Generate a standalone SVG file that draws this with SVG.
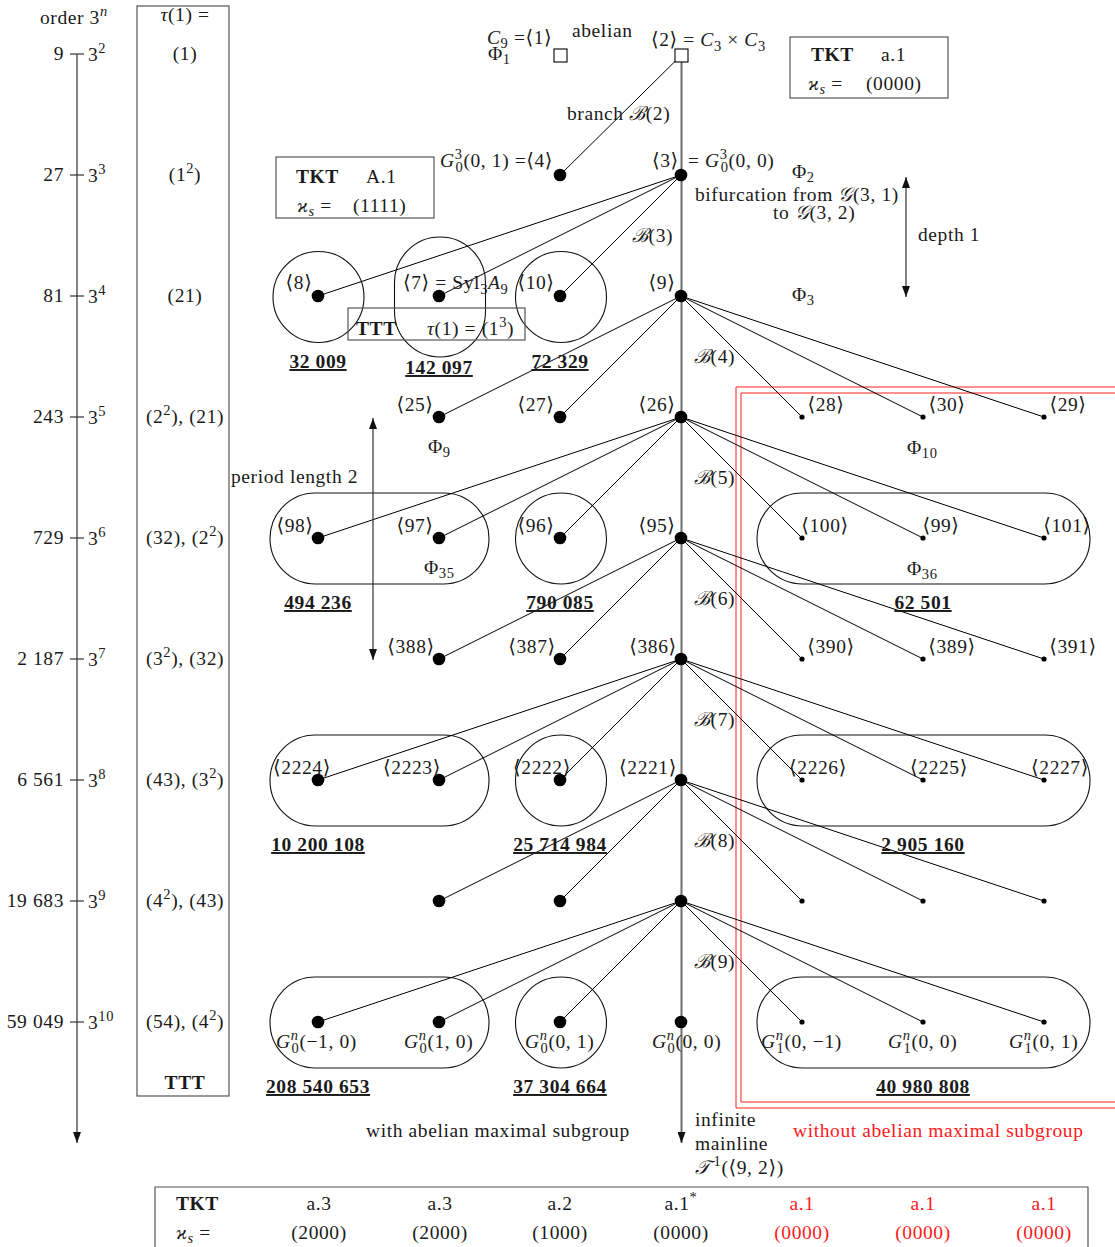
<svg xmlns="http://www.w3.org/2000/svg" width="1115" height="1247" viewBox="0 0 1115 1247">
<style>
.t{font-family:"Liberation Serif","DejaVu Serif",serif;font-size:19.5px;fill:#1a1a1a;letter-spacing:0.6px}
.m{text-anchor:middle}
.e{text-anchor:end}
.i{font-style:italic}
.b{font-weight:bold}
.u{text-decoration:underline}
.s{font-size:14.5px}
.r{fill:#ff1a1a}
.ed{stroke:#000;stroke-width:1;fill:none}
.ml{stroke:#6e6e6e;stroke-width:2;fill:none}
.ax{stroke:#333;stroke-width:1.2;fill:none}
.big{fill:#000}
.sm{fill:#000}
.sq{fill:#fff;stroke:#000;stroke-width:1.1}
.box{fill:none;stroke:#555;stroke-width:1.2}
.cl{fill:none;stroke:#111;stroke-width:1.1}
.rb{fill:none;stroke:#ff2020;stroke-width:1}
</style>
<defs>
<marker id="ah" viewBox="0 0 11 8" refX="11" refY="4" markerWidth="11" markerHeight="8" markerUnits="userSpaceOnUse" orient="auto-start-reverse"><path d="M0,0 L11,4 L0,8 z" fill="#111"/></marker>
</defs>
<rect width="1115" height="1247" fill="#fff"/>

<!-- left order axis -->
<g id="order-axis">
<line class="ax" x1="77" y1="54" x2="77" y2="1143" marker-end="url(#ah)"/>
<g class="ax">
<line x1="70" y1="54" x2="84" y2="54"/><line x1="70" y1="175" x2="84" y2="175"/><line x1="70" y1="296" x2="84" y2="296"/>
<line x1="70" y1="417" x2="84" y2="417"/><line x1="70" y1="538" x2="84" y2="538"/><line x1="70" y1="659" x2="84" y2="659"/>
<line x1="70" y1="780" x2="84" y2="780"/><line x1="70" y1="901" x2="84" y2="901"/><line x1="70" y1="1022" x2="84" y2="1022"/>
</g>
<text class="t" x="40" y="24">order 3<tspan class="s i" dy="-8">n</tspan></text>
<text class="t e" x="64" y="60">9</text><text class="t" x="88" y="61">3<tspan class="s" dy="-8">2</tspan></text>
<text class="t e" x="64" y="181">27</text><text class="t" x="88" y="182">3<tspan class="s" dy="-8">3</tspan></text>
<text class="t e" x="64" y="302">81</text><text class="t" x="88" y="303">3<tspan class="s" dy="-8">4</tspan></text>
<text class="t e" x="64" y="423">243</text><text class="t" x="88" y="424">3<tspan class="s" dy="-8">5</tspan></text>
<text class="t e" x="64" y="544">729</text><text class="t" x="88" y="545">3<tspan class="s" dy="-8">6</tspan></text>
<text class="t e" x="64" y="665">2 187</text><text class="t" x="88" y="666">3<tspan class="s" dy="-8">7</tspan></text>
<text class="t e" x="64" y="786">6 561</text><text class="t" x="88" y="787">3<tspan class="s" dy="-8">8</tspan></text>
<text class="t e" x="64" y="907">19 683</text><text class="t" x="88" y="908">3<tspan class="s" dy="-8">9</tspan></text>
<text class="t e" x="64" y="1028">59 049</text><text class="t" x="88" y="1029">3<tspan class="s" dy="-8">10</tspan></text>
</g>

<!-- tau column -->
<g id="ttt-column">
<rect class="box" x="137" y="6" width="92" height="1090"/>
<text class="t m" x="185" y="21"><tspan class="i">τ</tspan>(1) =</text>
<text class="t m" x="185" y="60">(1)</text>
<text class="t m" x="185" y="181">(1<tspan class="s" dy="-8">2</tspan><tspan dy="8">)</tspan></text>
<text class="t m" x="185" y="302">(21)</text>
<text class="t m" x="185" y="423">(2<tspan class="s" dy="-8">2</tspan><tspan dy="8">), (21)</tspan></text>
<text class="t m" x="185" y="544">(32), (2<tspan class="s" dy="-8">2</tspan><tspan dy="8">)</tspan></text>
<text class="t m" x="185" y="665">(3<tspan class="s" dy="-8">2</tspan><tspan dy="8">), (32)</tspan></text>
<text class="t m" x="185" y="786">(43), (3<tspan class="s" dy="-8">2</tspan><tspan dy="8">)</tspan></text>
<text class="t m" x="185" y="907">(4<tspan class="s" dy="-8">2</tspan><tspan dy="8">), (43)</tspan></text>
<text class="t m" x="185" y="1028">(54), (4<tspan class="s" dy="-8">2</tspan><tspan dy="8">)</tspan></text>
<text class="t m b" x="185" y="1089">TTT</text>
</g>

<!-- region without abelian maximal subgroup -->
<g id="region-nonabelian">
<path class="rb" d="M1115,387 H736 V1108 H1115"/>
<path class="rb" d="M1115,393 H741 V1102 H1115"/>
<text class="t r" x="793" y="1137">without abelian maximal subgroup</text>
</g>

<!-- clusters -->
<g id="clusters">
<circle class="cl" cx="318.5" cy="297" r="45.5"/>
<rect class="cl" x="394.5" y="237" width="91" height="120" rx="45.5"/>
<circle class="cl" cx="561" cy="297" r="45.5"/>
<rect class="cl" x="270" y="493" width="219" height="91" rx="45.5"/>
<circle class="cl" cx="561" cy="538.5" r="45.5"/>
<rect class="cl" x="757" y="493" width="333" height="91" rx="45.5"/>
<rect class="cl" x="270" y="735" width="219" height="91" rx="45.5"/>
<circle class="cl" cx="561" cy="780.5" r="45.5"/>
<rect class="cl" x="757" y="735" width="333" height="91" rx="45.5"/>
<rect class="cl" x="270" y="977" width="219" height="91" rx="45.5"/>
<circle class="cl" cx="561" cy="1022.5" r="45.5"/>
<rect class="cl" x="757" y="977" width="333" height="91" rx="45.5"/>
</g>

<!-- connectors -->
<g id="connectors">
<line class="ml" x1="681.5" y1="55" x2="681.5" y2="1143" marker-end="url(#ah)"/>
<g class="ed">
<line x1="681.5" y1="55" x2="560" y2="175"/>
<line x1="681" y1="175" x2="318" y2="296"/><line x1="681" y1="175" x2="439" y2="296"/><line x1="681" y1="175" x2="560" y2="296"/>
<line x1="681" y1="296" x2="439" y2="417"/><line x1="681" y1="296" x2="560" y2="417"/><line x1="681" y1="296" x2="802" y2="417"/><line x1="681" y1="296" x2="923" y2="417"/><line x1="681" y1="296" x2="1044" y2="417"/>
<line x1="681" y1="417" x2="318" y2="538"/><line x1="681" y1="417" x2="439" y2="538"/><line x1="681" y1="417" x2="560" y2="538"/><line x1="681" y1="417" x2="802" y2="538"/><line x1="681" y1="417" x2="923" y2="538"/><line x1="681" y1="417" x2="1044" y2="538"/>
<line x1="681" y1="538" x2="439" y2="659"/><line x1="681" y1="538" x2="560" y2="659"/><line x1="681" y1="538" x2="802" y2="659"/><line x1="681" y1="538" x2="923" y2="659"/><line x1="681" y1="538" x2="1044" y2="659"/>
<line x1="681" y1="659" x2="318" y2="780"/><line x1="681" y1="659" x2="439" y2="780"/><line x1="681" y1="659" x2="560" y2="780"/><line x1="681" y1="659" x2="802" y2="780"/><line x1="681" y1="659" x2="923" y2="780"/><line x1="681" y1="659" x2="1044" y2="780"/>
<line x1="681" y1="780" x2="439" y2="901"/><line x1="681" y1="780" x2="560" y2="901"/><line x1="681" y1="780" x2="802" y2="901"/><line x1="681" y1="780" x2="923" y2="901"/><line x1="681" y1="780" x2="1044" y2="901"/>
<line x1="681" y1="901" x2="318" y2="1022"/><line x1="681" y1="901" x2="439" y2="1022"/><line x1="681" y1="901" x2="560" y2="1022"/><line x1="681" y1="901" x2="802" y2="1022"/><line x1="681" y1="901" x2="923" y2="1022"/><line x1="681" y1="901" x2="1044" y2="1022"/>
</g>
<line class="ax" x1="906" y1="177" x2="906" y2="297" marker-start="url(#ah)" marker-end="url(#ah)"/>
<line class="ax" x1="373" y1="418" x2="373" y2="660" marker-start="url(#ah)" marker-end="url(#ah)"/>
<text class="t" x="567" y="120">branch <tspan class="i">ℬ</tspan>(2)</text>
<text class="t" x="632" y="242"><tspan class="i">ℬ</tspan>(3)</text>
<text class="t" x="694" y="363"><tspan class="i">ℬ</tspan>(4)</text>
<text class="t" x="694" y="484"><tspan class="i">ℬ</tspan>(5)</text>
<text class="t" x="694" y="605"><tspan class="i">ℬ</tspan>(6)</text>
<text class="t" x="694" y="726"><tspan class="i">ℬ</tspan>(7)</text>
<text class="t" x="694" y="847"><tspan class="i">ℬ</tspan>(8)</text>
<text class="t" x="694" y="968"><tspan class="i">ℬ</tspan>(9)</text>
<text class="t" x="918" y="241">depth 1</text>
<text class="t" x="231" y="483">period length 2</text>
</g>

<!-- nodes -->
<g id="n1"><rect class="sq" x="554" y="49" width="13" height="13"/>
<text class="t" x="487" y="44"><tspan class="i">C</tspan><tspan class="s" dy="4">9</tspan><tspan dy="-4"> =⟨1⟩</tspan></text>
<text class="t" x="488" y="60">Φ<tspan class="s" dy="4">1</tspan></text>
<text class="t" x="572" y="37">abelian</text></g>
<g id="n2"><rect class="sq" x="675" y="49" width="13" height="13"/>
<text class="t" x="651" y="46">⟨2⟩ = <tspan class="i">C</tspan><tspan class="s" dy="5">3</tspan><tspan dy="-5"> × </tspan><tspan class="i">C</tspan><tspan class="s" dy="5">3</tspan></text></g>
<g id="tkt-a1"><rect class="box" x="790" y="37" width="158" height="61"/>
<text class="t b" x="811" y="61">TKT</text><text class="t" x="881" y="61">a.1</text>
<text class="t" x="808" y="90"><tspan class="i">ϰ</tspan><tspan class="s i" dy="4">s</tspan><tspan dy="-4"> =</tspan></text>
<text class="t" x="866" y="90">(0000)</text></g>

<g id="n4"><circle class="big" cx="560" cy="175" r="6.3"/>
<text class="t" x="440" y="167"><tspan class="i">G</tspan><tspan class="s" dy="-8">3</tspan><tspan class="s" dx="-7" dy="13">0</tspan><tspan dy="-5">(0, 1) =⟨4⟩</tspan></text></g>
<g id="n3"><circle class="big" cx="681" cy="175" r="6.3"/>
<text class="t" x="652" y="167">⟨3⟩</text>
<text class="t" x="688" y="167">= <tspan class="i">G</tspan><tspan class="s" dy="-8">3</tspan><tspan class="s" dx="-7" dy="13">0</tspan><tspan dy="-5">(0, 0)</tspan></text>
<text class="t" x="792" y="178">Φ<tspan class="s" dy="4">2</tspan></text>
<text class="t" x="695" y="201">bifurcation from <tspan class="i">𝒢</tspan>(3, 1)</text>
<text class="t" x="773" y="219">to <tspan class="i">𝒢</tspan>(3, 2)</text></g>
<g id="tkt-A1"><rect class="box" x="276" y="157" width="158" height="61"/>
<text class="t b" x="296" y="183">TKT</text><text class="t" x="366" y="183">A.1</text>
<text class="t" x="297" y="212"><tspan class="i">ϰ</tspan><tspan class="s i" dy="4">s</tspan><tspan dy="-4"> =</tspan></text>
<text class="t" x="353" y="212">(1111)</text></g>

<g id="n8"><circle class="big" cx="318" cy="296" r="6.3"/><text class="t m" x="299" y="289">⟨8⟩</text>
<text class="t m b u" x="318" y="368">32 009</text></g>
<g id="n7"><circle class="big" cx="439" cy="296" r="6.3"/>
<text class="t" x="403" y="289">⟨7⟩ = Syl<tspan class="s" dy="5">3</tspan><tspan dy="-5" class="i">A</tspan><tspan class="s" dy="5">9</tspan></text>
<text class="t m b u" x="439" y="374">142 097</text></g>
<g id="n10"><circle class="big" cx="560" cy="296" r="6.3"/><text class="t m" x="536" y="289">⟨10⟩</text>
<text class="t m b u" x="560" y="368">72 329</text></g>
<g id="n9"><circle class="big" cx="681" cy="296" r="6.3"/><text class="t m" x="662" y="289">⟨9⟩</text>
<text class="t" x="792" y="301">Φ<tspan class="s" dy="4">3</tspan></text></g>
<g id="ttt-box"><rect class="box" x="348" y="308" width="177" height="32"/>
<text class="t b" x="356" y="335">TTT</text>
<text class="t" x="427" y="335"><tspan class="i">τ</tspan>(1) = (1<tspan class="s" dy="-8">3</tspan><tspan dy="8">)</tspan></text></g>

<g id="n25"><circle class="big" cx="439" cy="417" r="6.3"/><text class="t m" x="415" y="411">⟨25⟩</text>
<text class="t" x="428" y="453">Φ<tspan class="s" dy="4">9</tspan></text></g>
<g id="n27"><circle class="big" cx="560" cy="417" r="6.3"/><text class="t m" x="536" y="411">⟨27⟩</text></g>
<g id="n26"><circle class="big" cx="681" cy="417" r="6.3"/><text class="t m" x="657" y="411">⟨26⟩</text></g>
<g id="n28"><circle class="sm" cx="802" cy="417" r="2.6"/><text class="t m" x="826" y="411">⟨28⟩</text></g>
<g id="n30"><circle class="sm" cx="923" cy="417" r="2.6"/><text class="t m" x="947" y="411">⟨30⟩</text>
<text class="t" x="907" y="454">Φ<tspan class="s" dy="4">10</tspan></text></g>
<g id="n29"><circle class="sm" cx="1044" cy="417" r="2.6"/><text class="t m" x="1068" y="411">⟨29⟩</text></g>

<g id="n98"><circle class="big" cx="318" cy="538" r="6.3"/><text class="t m" x="295" y="532">⟨98⟩</text>
<text class="t m b u" x="318" y="609">494 236</text></g>
<g id="n97"><circle class="big" cx="439" cy="538" r="6.3"/><text class="t m" x="415" y="532">⟨97⟩</text>
<text class="t" x="424" y="574">Φ<tspan class="s" dy="4">35</tspan></text></g>
<g id="n96"><circle class="big" cx="560" cy="538" r="6.3"/><text class="t m" x="536" y="532">⟨96⟩</text>
<text class="t m b u" x="560" y="609">790 085</text></g>
<g id="n95"><circle class="big" cx="681" cy="538" r="6.3"/><text class="t m" x="657" y="532">⟨95⟩</text></g>
<g id="n100"><circle class="sm" cx="802" cy="538" r="2.6"/><text class="t m" x="825" y="532">⟨100⟩</text></g>
<g id="n99"><circle class="sm" cx="923" cy="538" r="2.6"/><text class="t m" x="941" y="532">⟨99⟩</text>
<text class="t" x="907" y="575">Φ<tspan class="s" dy="4">36</tspan></text>
<text class="t m b u" x="923" y="609">62 501</text></g>
<g id="n101"><circle class="sm" cx="1044" cy="538" r="2.6"/><text class="t m" x="1067" y="532">⟨101⟩</text></g>

<g id="n388"><circle class="big" cx="439" cy="659" r="6.3"/><text class="t m" x="411" y="653">⟨388⟩</text></g>
<g id="n387"><circle class="big" cx="560" cy="659" r="6.3"/><text class="t m" x="532" y="653">⟨387⟩</text></g>
<g id="n386"><circle class="big" cx="681" cy="659" r="6.3"/><text class="t m" x="653" y="653">⟨386⟩</text></g>
<g id="n390"><circle class="sm" cx="802" cy="659" r="2.6"/><text class="t m" x="831" y="653">⟨390⟩</text></g>
<g id="n389"><circle class="sm" cx="923" cy="659" r="2.6"/><text class="t m" x="952" y="653">⟨389⟩</text></g>
<g id="n391"><circle class="sm" cx="1044" cy="659" r="2.6"/><text class="t m" x="1073" y="653">⟨391⟩</text></g>

<g id="n2224"><circle class="big" cx="318" cy="780" r="6.3"/><text class="t m" x="302" y="774">⟨2224⟩</text>
<text class="t m b u" x="318" y="851">10 200 108</text></g>
<g id="n2223"><circle class="big" cx="439" cy="780" r="6.3"/><text class="t m" x="412" y="774">⟨2223⟩</text></g>
<g id="n2222"><circle class="big" cx="560" cy="780" r="6.3"/><text class="t m" x="542" y="774">⟨2222⟩</text>
<text class="t m b u" x="560" y="851">25 714 984</text></g>
<g id="n2221"><circle class="big" cx="681" cy="780" r="6.3"/><text class="t m" x="648" y="774">⟨2221⟩</text></g>
<g id="n2226"><circle class="sm" cx="802" cy="780" r="2.6"/><text class="t m" x="818" y="774">⟨2226⟩</text></g>
<g id="n2225"><circle class="sm" cx="923" cy="780" r="2.6"/><text class="t m" x="939" y="774">⟨2225⟩</text>
<text class="t m b u" x="923" y="851">2 905 160</text></g>
<g id="n2227"><circle class="sm" cx="1044" cy="780" r="2.6"/><text class="t m" x="1060" y="774">⟨2227⟩</text></g>

<g id="n9a"><circle class="big" cx="439" cy="901" r="6.3"/></g>
<g id="n9b"><circle class="big" cx="560" cy="901" r="6.3"/></g>
<g id="n9c"><circle class="big" cx="681" cy="901" r="6.3"/></g>
<g id="n9d"><circle class="sm" cx="802" cy="901" r="2.6"/></g>
<g id="n9e"><circle class="sm" cx="923" cy="901" r="2.6"/></g>
<g id="n9f"><circle class="sm" cx="1044" cy="901" r="2.6"/></g>

<g id="g0m10"><circle class="big" cx="318" cy="1022" r="6.3"/>
<text class="t" x="276" y="1048"><tspan class="i">G</tspan><tspan class="s i" dy="-8">n</tspan><tspan class="s" dx="-7" dy="13">0</tspan><tspan dy="-5">(−1, 0)</tspan></text>
<text class="t m b u" x="318" y="1093">208 540 653</text></g>
<g id="g010"><circle class="big" cx="439" cy="1022" r="6.3"/>
<text class="t" x="404" y="1048"><tspan class="i">G</tspan><tspan class="s i" dy="-8">n</tspan><tspan class="s" dx="-7" dy="13">0</tspan><tspan dy="-5">(1, 0)</tspan></text></g>
<g id="g001"><circle class="big" cx="560" cy="1022" r="6.3"/>
<text class="t" x="525" y="1048"><tspan class="i">G</tspan><tspan class="s i" dy="-8">n</tspan><tspan class="s" dx="-7" dy="13">0</tspan><tspan dy="-5">(0, 1)</tspan></text>
<text class="t m b u" x="560" y="1093">37 304 664</text></g>
<g id="g000"><circle class="big" cx="681" cy="1022" r="6.3"/>
<text class="t" x="652" y="1048"><tspan class="i">G</tspan><tspan class="s i" dy="-8">n</tspan><tspan class="s" dx="-7" dy="13">0</tspan><tspan dy="-5">(0, 0)</tspan></text></g>
<g id="g10m1"><circle class="sm" cx="802" cy="1022" r="2.6"/>
<text class="t" x="761" y="1048"><tspan class="i">G</tspan><tspan class="s i" dy="-8">n</tspan><tspan class="s" dx="-7" dy="13">1</tspan><tspan dy="-5">(0, −1)</tspan></text></g>
<g id="g100"><circle class="sm" cx="923" cy="1022" r="2.6"/>
<text class="t" x="888" y="1048"><tspan class="i">G</tspan><tspan class="s i" dy="-8">n</tspan><tspan class="s" dx="-7" dy="13">1</tspan><tspan dy="-5">(0, 0)</tspan></text>
<text class="t m b u" x="923" y="1093">40 980 808</text></g>
<g id="g101"><circle class="sm" cx="1044" cy="1022" r="2.6"/>
<text class="t" x="1009" y="1048"><tspan class="i">G</tspan><tspan class="s i" dy="-8">n</tspan><tspan class="s" dx="-7" dy="13">1</tspan><tspan dy="-5">(0, 1)</tspan></text></g>

<g id="mainline-label">
<text class="t" x="366" y="1137">with abelian maximal subgroup</text>
<text class="t" x="695" y="1126">infinite</text>
<text class="t" x="695" y="1150">mainline</text>
<text class="t" x="695" y="1174"><tspan class="i">𝒯</tspan><tspan class="s" dx="3" dy="-8">1</tspan><tspan dy="8">(⟨9, 2⟩)</tspan></text>
</g>

<!-- bottom table -->
<g id="tkt-table">
<path class="box" d="M155,1247 V1187 H1088 V1247"/>
<text class="t b" x="176" y="1210">TKT</text>
<text class="t m" x="319" y="1210">a.3</text>
<text class="t m" x="440" y="1210">a.3</text>
<text class="t m" x="560" y="1210">a.2</text>
<text class="t m" x="681" y="1210">a.1<tspan class="s" dy="-8">*</tspan></text>
<text class="t m r" x="802" y="1210">a.1</text>
<text class="t m r" x="923" y="1210">a.1</text>
<text class="t m r" x="1044" y="1210">a.1</text>
<text class="t" x="176" y="1239"><tspan class="i">ϰ</tspan><tspan class="s i" dy="4">s</tspan><tspan dy="-4"> =</tspan></text>
<text class="t m" x="319" y="1239">(2000)</text>
<text class="t m" x="440" y="1239">(2000)</text>
<text class="t m" x="560" y="1239">(1000)</text>
<text class="t m" x="681" y="1239">(0000)</text>
<text class="t m r" x="802" y="1239">(0000)</text>
<text class="t m r" x="923" y="1239">(0000)</text>
<text class="t m r" x="1044" y="1239">(0000)</text>
</g>
</svg>
